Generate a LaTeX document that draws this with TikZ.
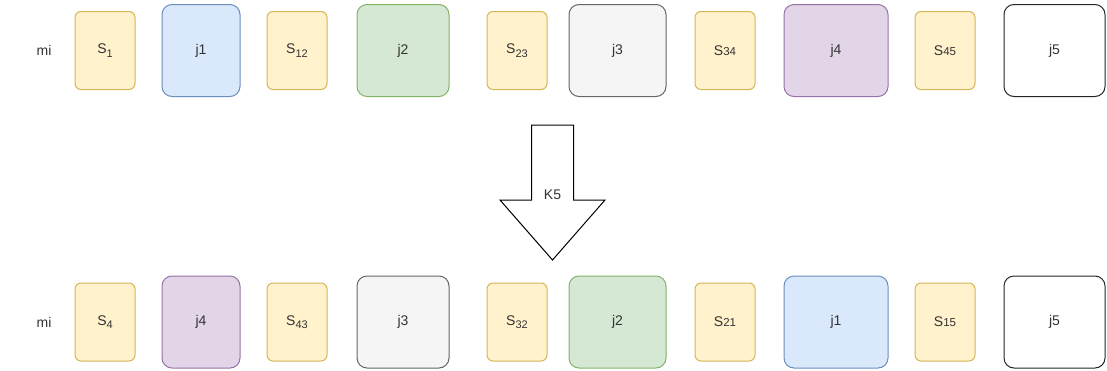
\documentclass[tikz,border=0pt]{standalone}
\usepackage{fontspec}
\setmainfont{Liberation Sans}
\begin{document}
\begin{tikzpicture}[x=1pt,y=-1pt,
  every node/.style={font=\fontsize{14}{16}\selectfont, text=black!80},
  sbox/.style={draw=sY, fill=fY, line width=1pt, rounded corners=6pt,
    minimum width=60pt, minimum height=78pt, inner sep=0pt},
  jbox/.style={line width=1pt, rounded corners=10pt,
    minimum height=92pt, inner sep=0pt},
  cblue/.style={draw=sB, fill=fB},
  cgreen/.style={draw=sG, fill=fG},
  cgrey/.style={draw=sGr, fill=fGr},
  cpurple/.style={draw=sP, fill=fP},
  cwhite/.style={draw=black!85, fill=white},
  flow/.style={draw=black, line width=1pt, fill=white, line join=miter}
]
\definecolor{fY}{HTML}{FFF2CC}\definecolor{sY}{HTML}{D6B656}
\definecolor{fB}{HTML}{DAE8FC}\definecolor{sB}{HTML}{6C8EBF}
\definecolor{fG}{HTML}{D5E8D4}\definecolor{sG}{HTML}{82B366}
\definecolor{fGr}{HTML}{F5F5F5}\definecolor{sGr}{HTML}{666666}
\definecolor{fP}{HTML}{E1D5E7}\definecolor{sP}{HTML}{9673A6}
\newcommand\lowsub[1]{\raisebox{-3.5pt}{\fontsize{11}{12}\selectfont #1}}
\newcommand\flatsub[1]{{\fontsize{11.5}{12}\selectfont #1}}

\useasboundingbox (0,0) rectangle (1107,370);

% upper row
\node (mitop) at (44,50.5) {mi};
\node[sbox] (s1)  at (105,50.5) {S\lowsub{1}};
\node[jbox,cblue,minimum width=78pt]   (j1t) at (201,50.5) {j1};
\node[sbox] (s12) at (297,50.5) {S\lowsub{12}};
\node[jbox,cgreen,minimum width=92pt]  (j2t) at (403,50.5) {j2};
\node[sbox] (s23) at (517,50.5) {S\lowsub{23}};
\node[jbox,cgrey,minimum width=97pt]   (j3t) at (617.5,50.5) {j3};
\node[sbox] (s34) at (725,50.5) {S\flatsub{34}};
\node[jbox,cpurple,minimum width=104pt] (j4t) at (836,50.5) {j4};
\node[sbox] (s45) at (945,50.5) {S\flatsub{45}};
\node[jbox,cwhite,minimum width=101pt] (j5t) at (1054.5,50.5) {j5};

% transformation arrow
\draw[flow] (531.5,125) -- (573.5,125) -- (573.5,200) -- (605,200)
  -- (552.5,260) -- (500,200) -- (531.5,200) -- cycle;
\node (k5) at (552.5,195) {K5};

% lower row
\node (mibot) at (44,322) {mi};
\node[sbox] (s4)  at (105,322) {S\lowsub{4}};
\node[jbox,cpurple,minimum width=78pt] (j4b) at (201,322) {j4};
\node[sbox] (s43) at (297,322) {S\lowsub{43}};
\node[jbox,cgrey,minimum width=92pt]   (j3b) at (403,322) {j3};
\node[sbox] (s32) at (517,322) {S\lowsub{32}};
\node[jbox,cgreen,minimum width=97pt]  (j2b) at (617.5,322) {j2};
\node[sbox] (s21) at (725,322) {S\flatsub{21}};
\node[jbox,cblue,minimum width=104pt]  (j1b) at (836,322) {j1};
\node[sbox] (s15) at (945,322) {S\flatsub{15}};
\node[jbox,cwhite,minimum width=101pt] (j5b) at (1054.5,322) {j5};
\end{tikzpicture}
\end{document}
